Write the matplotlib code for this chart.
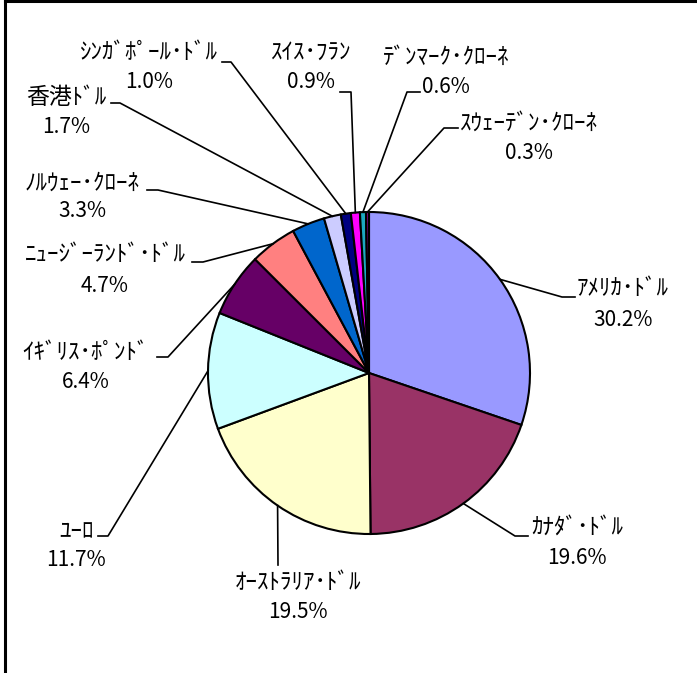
import numpy as np
import matplotlib.pyplot as plt

# 通貨別構成比 (%)
currencies = ['ｱﾒﾘｶ･ﾄﾞﾙ', 'ｶﾅﾀﾞ･ﾄﾞﾙ', 'ｵｰｽﾄﾗﾘｱ･ﾄﾞﾙ', 'ﾕｰﾛ', 'ｲｷﾞﾘｽ･ﾎﾟﾝﾄﾞ',
              'ﾆｭｰｼﾞｰﾗﾝﾄﾞ･ﾄﾞﾙ', 'ﾉﾙｳｪｰ･ｸﾛｰﾈ', '香港ﾄﾞﾙ', 'ｼﾝｶﾞﾎﾟｰﾙ･ﾄﾞﾙ',
              'ｽｲｽ･ﾌﾗﾝ', 'ﾃﾞﾝﾏｰｸ･ｸﾛｰﾈ', 'ｽｳｪｰﾃﾞﾝ･ｸﾛｰﾈ']
shares = [30.2, 19.6, 19.5, 11.7, 6.4, 4.7, 3.3, 1.7, 1.0, 0.9, 0.6, 0.3]
colors = ['#9999FF', '#993366', '#FFFFCC', '#CCFFFF', '#660066', '#FF8080',
          '#0066CC', '#CCCCFF', '#000080', '#FF00FF', '#1CA8C0', '#800080']

# label layout in pixels (y from top): text centre x, name y, pct y, leader points
label_pos = [
    (623, 289, 320, [(562, 297), (575, 297)]),
    (577, 527, 558, [(515, 536), (528, 536)]),
    (298, 582, 612, [(278, 565)]),
    (76, 532, 560, [(108, 536), (98, 536)]),
    (86, 353, 382, [(168, 357), (157, 357)]),
    (105, 255, 286, [(203, 262), (192, 262)]),
    (82, 183, 211, [(158, 190), (147, 190)]),
    (66, 98, 127, [(120, 103), (111, 103)]),
    (149, 52, 82, [(231, 62), (222, 62)]),
    (311, 52, 82, [(351, 92), (340, 92)]),
    (446, 57, 87, [(407, 92), (420, 92)]),
    (529, 123, 153, [(444, 128), (458, 128)]),
]

W, H = 697, 673
cx, cy, r = 369, 373, 161

fig = plt.figure(figsize=(W / 100, H / 100), dpi=100)
ax = fig.add_axes([0, 0, 1, 1])

wedges, _ = ax.pie(shares, colors=colors, startangle=90, counterclock=False,
                   center=(cx, H - cy), radius=r,
                   wedgeprops=dict(edgecolor='black', linewidth=1.5))
ax.set_xlim(0, W)
ax.set_ylim(0, H)
ax.set_aspect('auto')
ax.axis('off')

font = ['Noto Sans CJK JP', 'DejaVu Sans']
for w, name, val, (tx, ny, py, pts) in zip(wedges, currencies, shares, label_pos):
    ang = np.deg2rad((w.theta1 + w.theta2) / 2)
    xs = [cx + r * np.cos(ang)] + [p[0] for p in pts]
    ys = [H - cy + r * np.sin(ang)] + [H - p[1] for p in pts]
    ax.plot(xs, ys, color='black', lw=1.2)
    ax.text(tx, H - ny, name, ha='center', va='center', fontsize=16.5, family=font)
    ax.text(tx, H - py, f'{val:.1f}%', ha='center', va='center', fontsize=15, family=font)

# frame edges
ax.plot([5, 5], [0, H], color='black', lw=2.2, clip_on=False)
ax.plot([5, W], [H - 0.5, H - 0.5], color='black', lw=2.2, clip_on=False)

fig.savefig('out.png', dpi=100)
